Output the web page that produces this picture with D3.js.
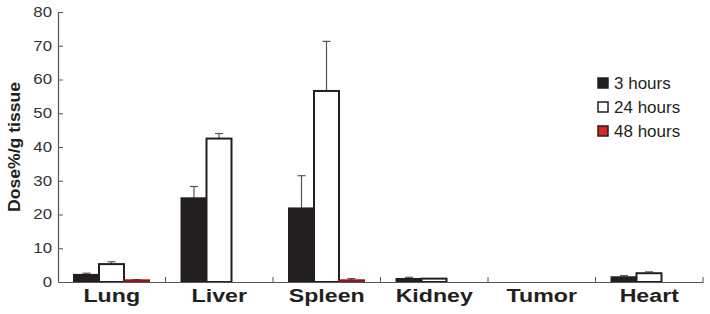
<!DOCTYPE html>
<html>
<head>
<meta charset="utf-8">
<script src="https://cdn.jsdelivr.net/npm/d3@7"></script>
<style>
  body { margin: 0; background: #fff; }
  svg { display: block; font-family: "Liberation Sans", Arial, sans-serif; }
</style>
</head>
<body>
<svg id="chart" width="710" height="314"></svg>
<script>
// organs on the x axis
let organs = ["Lung", "Liver", "Spleen", "Kidney", "Tumor", "Heart"];
let series = ["3 hours", "24 hours", "48 hours"];
// mean dose per series, one value per organ
let dose3h  = [2.1, 24.8, 21.8, 0.9, 0, 1.4];
let dose24h = [5.3, 42.5, 56.6, 1.0, 0, 2.6];
let dose48h = [0.5, 0, 0.5, 0, 0, 0];
// top of error bar
let err3h  = [2.6, 28.3, 31.5, 1.4, 0, 1.9];
let err24h = [6.0, 44.0, 71.3, 1.0, 0, 3.0];
let err48h = [0.7, 0, 1.0, 0, 0, 0];
let yTicks = [0, 10, 20, 30, 40, 50, 60, 70, 80];

window.onload = function() {
   drawChart();
}

function drawChart() {
   let margin = {top: 12, right: 7, bottom: 32, left: 58};
   let width = 710, height = 314;
   let svg = d3.select("#chart");

   let values = [dose3h, dose24h, dose48h];
   let errs = [err3h, err24h, err48h];
   let fills = ["#231f20", "#ffffff", "#e02424"];
   let strokes = ["#231f20", "#231f20", "#8a1a1a"];

   let x = d3.scaleBand()
      .domain(organs)
      .range([margin.left, width - margin.right]);
   // bars inside each band
   let xInner = d3.scaleBand()
      .domain(d3.range(series.length))
      .range([16, 91]);
   let y = d3.scaleLinear()
      .domain([0, 80])
      .range([height - margin.bottom, margin.top]);

   // left axis, ticks point inward
   let leftAxis = d3.axisLeft(y)
      .tickValues(yTicks)
      .tickSize(-5)
      .tickSizeOuter(0)
      .tickPadding(5);
   let gy = svg.append("g")
      .attr("transform", "translate(" + margin.left + ",0)")
      .call(leftAxis);
   gy.select(".domain").attr("stroke", "#555").attr("stroke-width", 1.2);
   gy.selectAll(".tick line").attr("stroke", "#555");
   // labels in the original look a bit stretched sideways
   gy.selectAll(".tick text")
      .attr("font-size", "14px")
      .attr("fill", "#333")
      .attr("font-family", "Liberation Sans, Arial, sans-serif")
      .attr("transform", "scale(1.2,1)");
   gy.selectAll(".tick").filter(d => d === 0).select("line").remove();

   // bars
   let groups = svg.selectAll("g.organ")
      .data(organs)
      .join("g")
         .attr("class", "organ")
         .attr("transform", d => "translate(" + x(d) + ",0)");

   series.forEach(function(s, si) {
      // error bars (upward only)
      groups.each(function(d, i) {
         let g = d3.select(this);
         let top = errs[si][i], v = values[si][i];
         if (top > v) {
            let cx = xInner(si) + xInner.bandwidth() / 2;
            g.append("line")
               .attr("x1", cx).attr("x2", cx)
               .attr("y1", y(v)).attr("y2", y(top))
               .attr("stroke", "#555").attr("stroke-width", 1.2);
            g.append("line")
               .attr("x1", cx - 4).attr("x2", cx + 4)
               .attr("y1", y(top)).attr("y2", y(top))
               .attr("stroke", "#555").attr("stroke-width", 1.2);
         }
      });
      groups.append("rect")
         .attr("x", xInner(si))
         .attr("width", xInner.bandwidth())
         .attr("y", (d, i) => y(values[si][i]))
         .attr("height", (d, i) => y(0) - y(values[si][i]))
         .attr("fill", fills[si])
         .attr("stroke", strokes[si])
         .attr("stroke-width", (d, i) => values[si][i] > 0 ? 2 : 0);
   });

   // bottom axis
   let bottomAxis = d3.axisBottom(x)
      .tickSize(0)
      .tickPadding(7);
   let gx = svg.append("g")
      .attr("transform", "translate(0," + y(0) + ")")
      .call(bottomAxis);
   gx.select(".domain").attr("stroke", "#555").attr("stroke-width", 1.2);
   gx.selectAll(".tick text")
      .attr("font-size", "19px")
      .attr("font-weight", "bold")
      .attr("fill", "#231f20")
      .attr("font-family", "Liberation Sans, Arial, sans-serif")
      .attr("transform", "scale(1.22,1)");
   // small separators at band edges
   gx.selectAll("line.sep")
      .data(organs)
      .join("line")
         .attr("class", "sep")
         .attr("x1", d => x(d) + x.bandwidth())
         .attr("x2", d => x(d) + x.bandwidth())
         .attr("y1", -5).attr("y2", 0)
         .attr("stroke", "#555");

   // y axis label
   svg.append("text")
      .attr("transform", "translate(20," + y(40) + ") rotate(-90) scale(1.1,1)")
      .attr("text-anchor", "middle")
      .attr("font-size", "16px")
      .attr("font-weight", "bold")
      .attr("fill", "#231f20")
      .text("Dose%/g tissue");

   // legend
   let legend = svg.append("g")
      .attr("transform", "translate(597,77)");
   series.forEach(function(s, si) {
      let row = legend.append("g").attr("transform", "translate(0," + si * 24 + ")");
      row.append("rect")
         .attr("x", 1).attr("y", 1)
         .attr("width", 10).attr("height", 10)
         .attr("fill", si === 2 ? "#e02424" : fills[si])
         .attr("stroke", "#231f20")
         .attr("stroke-width", 1.5);
      row.append("text")
         .attr("x", 17).attr("y", 6)
         .attr("dy", "0.35em")
         .attr("font-size", "17px")
         .attr("fill", "#231f20")
         .text(s);
   });
}
</script>
</body>
</html>
